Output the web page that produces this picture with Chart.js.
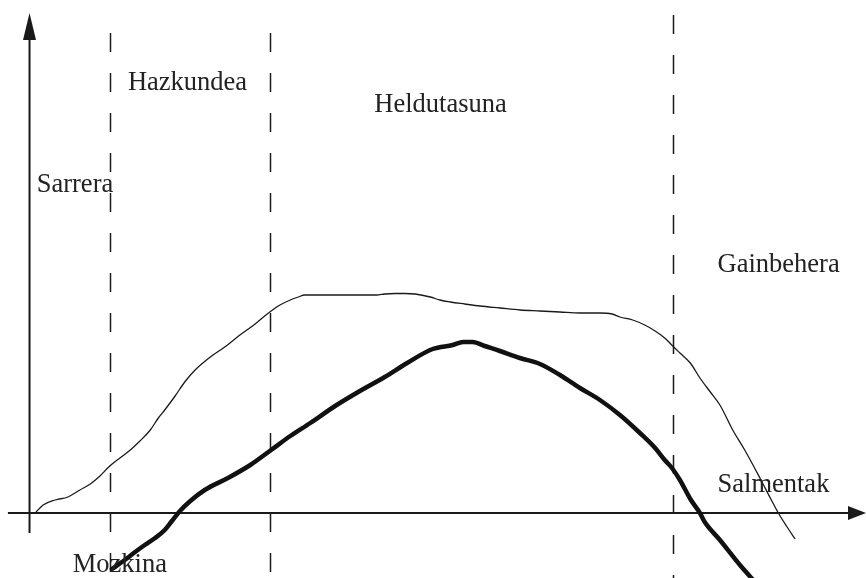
<!DOCTYPE html>
<html>
<head>
<meta charset="utf-8">
<title>Produktuaren bizi-zikloa</title>
<script src="https://cdn.jsdelivr.net/npm/chart.js@4.4.1/dist/chart.umd.min.js"></script>
<style>
  html, body { margin: 0; padding: 0; background: #fff; }
  #wrap { width: 866px; height: 578px; }
</style>
</head>
<body>
<div id="wrap"><canvas id="cycle" width="866" height="578"></canvas></div>
<script>
// time (x) and value (y) readings, in chart units
const salesTime = [0.7, 1.7, 3.2, 4.8, 6.3, 7.6, 8.8, 9.9, 11.3, 12.6, 13.8, 15.1, 16.1, 16.9, 18.2, 19.4, 20.7, 22.6, 24.4, 26.3, 28.2, 29.4, 30.2, 31.3, 32.6, 33.6, 34.4, 38.8, 43.4, 44.4, 45.7, 46.9, 48.2, 50.1, 51.3, 52.6, 54.4, 56.3, 58.8, 61.3, 63.8, 66.3, 68.8, 71.3, 72.8, 73.8, 75.4, 76.9, 78.2, 79.4, 80.4, 81.3, 82.6, 83.8, 85.1, 86.3, 87.9, 89.4, 91.3, 92.6, 93.6, 94.7, 95.7];
const salesValues = [0, 3.2, 5.2, 6.4, 9.2, 11.6, 14.8, 18.4, 22, 25.2, 28.8, 33.2, 38, 41.2, 46.8, 52.4, 57.2, 62.4, 66.4, 71.2, 75.6, 78.8, 80.8, 83.2, 85.2, 86.4, 87.2, 87.2, 87.2, 87.6, 87.8, 87.8, 87.6, 86.4, 85.2, 84.4, 83.6, 82.8, 82, 81.2, 80.8, 80.4, 80, 80, 79.6, 78.4, 77.2, 75.2, 72.8, 70, 66.8, 64, 60, 54, 48.4, 43.2, 33.2, 25.2, 14, 6, 0, -5.6, -10.4];

const profitTime = [10.3, 11.9, 13.2, 14.4, 15.7, 16.9, 17.8, 18.8, 20.1, 21.9, 24.8, 27.6, 30.2, 32.6, 35.1, 38.2, 41.3, 44.4, 47.2, 50.4, 52.9, 54.2, 55.4, 56.9, 58.8, 61.3, 63.8, 66.3, 68.8, 71.3, 73.8, 76.3, 78.2, 79.4, 80.3, 81.3, 82.6, 83.8, 84.4, 86.3, 88.8, 90.7];
const profitValues = [-22.4, -18.8, -15.6, -12.8, -10, -6.8, -3.2, 0.8, 4.8, 9.2, 14, 19.2, 25.2, 30.8, 36, 42.8, 48.8, 54.4, 60, 65.6, 67.2, 68.4, 68.4, 66.8, 64.8, 62, 59.6, 55.2, 50, 45.2, 39.2, 32, 26, 21.2, 18, 13.2, 5.6, 0, -3.6, -10.8, -20.8, -27.6];

// stage boundaries on the time axis
const stageBounds = [10, 30, 80.4];

const stageNames = ["Sarrera", "Hazkundea", "Heldutasuna", "Gainbehera"];
const seriesNames = ["Salmentak", "Mozkina"];

const toPoints = (xs, ys) => xs.map((x, i) => ({ x: x, y: ys[i] }));

// where the dashed boundaries begin (value units)
const boundTops = [192, 192, 199.2];

// where each text sits (time, value) - left edge / baseline
const labelSpots = [
  { text: stageNames[0], t: 0.9, v: 128.4 },
  { text: stageNames[1], t: 12.3, v: 169.2 },
  { text: stageNames[2], t: 43.1, v: 160.4 },
  { text: stageNames[3], t: 86.0, v: 96.4 },
  { text: seriesNames[0], t: 86.0, v: 8.4 },
  { text: seriesNames[1], t: 5.4, v: -23.6 }
];

const ink = "#1a1a1a";

const diagramPlugin = {
  id: "diagram",
  beforeDatasetsDraw(chart) {
    const { ctx, scales, chartArea } = chart;
    const x = scales.x, y = scales.y;
    const x0 = x.getPixelForValue(0);
    const y0 = y.getPixelForValue(0);

    ctx.save();
    // stage boundaries
    ctx.strokeStyle = ink;
    ctx.lineWidth = 1.5;
    ctx.setLineDash([19, 21]);
    stageBounds.forEach((b, i) => {
      const px = Math.round(x.getPixelForValue(b)) + 0.5;
      ctx.beginPath();
      ctx.moveTo(px, y.getPixelForValue(boundTops[i]));
      ctx.lineTo(px, chartArea.bottom);
      ctx.stroke();
    });
    ctx.setLineDash([]);

    // axes
    ctx.lineWidth = 2;
    ctx.beginPath();
    ctx.moveTo(x.getPixelForValue(-2.7), y0);
    ctx.lineTo(chartArea.right - 12, y0);
    ctx.moveTo(x0, y.getPixelForValue(-8));
    ctx.lineTo(x0, y.getPixelForValue(195));
    ctx.stroke();

    ctx.fillStyle = ink;
    // x arrow
    ctx.beginPath();
    ctx.moveTo(chartArea.right, y0);
    ctx.lineTo(chartArea.right - 18, y0 - 7);
    ctx.lineTo(chartArea.right - 18, y0 + 7);
    ctx.closePath();
    ctx.fill();
    // y arrow
    const top = y.getPixelForValue(200);
    ctx.beginPath();
    ctx.moveTo(x0, top);
    ctx.lineTo(x0 - 6.5, top + 27);
    ctx.lineTo(x0 + 6.5, top + 27);
    ctx.closePath();
    ctx.fill();
    ctx.restore();
  },
  afterDatasetsDraw(chart) {
    const { ctx, scales } = chart;
    ctx.save();
    ctx.fillStyle = "#222";
    ctx.font = '26.5px "Liberation Serif", "Times New Roman", serif';
    ctx.textAlign = "left";
    ctx.textBaseline = "alphabetic";
    labelSpots.forEach((l) => {
      ctx.fillText(l.text, scales.x.getPixelForValue(l.t), scales.y.getPixelForValue(l.v));
    });
    ctx.restore();
  }
};

new Chart(document.getElementById("cycle"), {
  type: "line",
  data: {
    datasets: [
      {
        label: seriesNames[0],
        data: toPoints(salesTime, salesValues),
        borderColor: ink,
        borderWidth: 1.3,
        pointRadius: 0,
        cubicInterpolationMode: "monotone",
        fill: false
      },
      {
        label: seriesNames[1],
        data: toPoints(profitTime, profitValues),
        borderColor: "#111",
        borderWidth: 4.5,
        pointRadius: 0,
        cubicInterpolationMode: "monotone",
        borderCapStyle: "round",
        borderJoinStyle: "round",
        fill: false
      }
    ]
  },
  options: {
    responsive: false,
    devicePixelRatio: 1,
    animation: false,
    layout: { padding: 0 },
    plugins: {
      legend: { display: false },
      tooltip: { enabled: false }
    },
    scales: {
      x: { type: "linear", display: false, min: -3.69, max: 104.56 },
      y: { type: "linear", display: false, min: -26, max: 205.2 }
    }
  },
  plugins: [diagramPlugin]
});
</script>
</body>
</html>
